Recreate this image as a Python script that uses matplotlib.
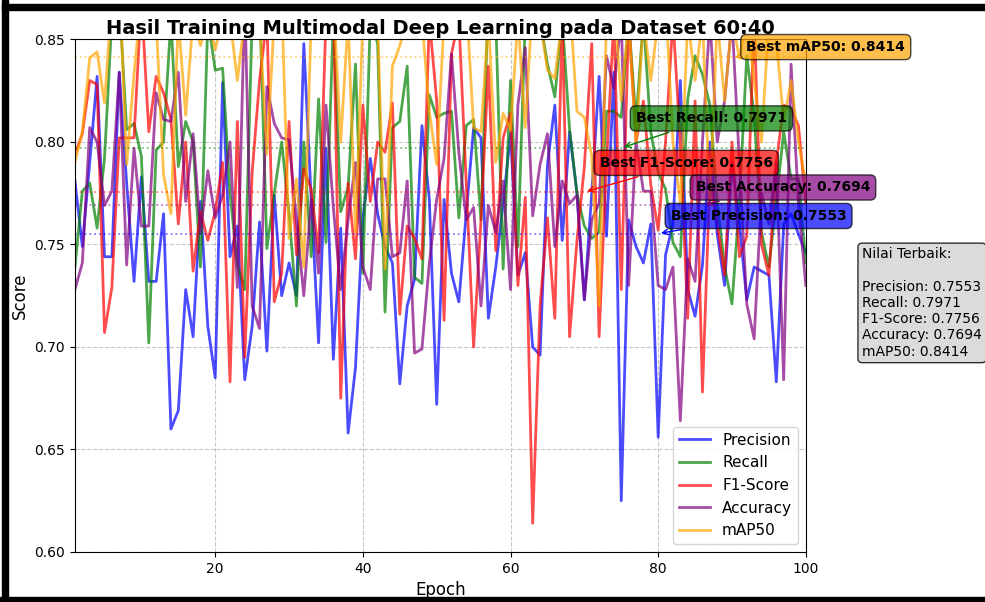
import matplotlib
matplotlib.use('Agg')
import matplotlib.pyplot as plt
import matplotlib.patches as patches
import numpy as np

# per-epoch validation metrics (epochs 1..100)
epochs = list(range(1, 101))

precision = [
    0.781, 0.749, 0.790, 0.832, 0.744, 0.744, 0.834, 0.780, 0.732, 0.783,
    0.732, 0.732, 0.765, 0.660, 0.669, 0.728, 0.705, 0.771, 0.710, 0.685,
    0.829, 0.744, 0.759, 0.684, 0.710, 0.761, 0.698, 0.774, 0.725, 0.741,
    0.725, 0.848, 0.772, 0.702, 0.797, 0.694, 0.758, 0.658, 0.690, 0.763,
    0.792, 0.765, 0.749, 0.741, 0.682, 0.720, 0.733, 0.808, 0.772, 0.672,
    0.772, 0.736, 0.722, 0.765, 0.807, 0.802, 0.714, 0.739, 0.770, 0.804,
    0.735, 0.746, 0.700, 0.696, 0.789, 0.818, 0.752, 0.805, 0.775, 0.723,
    0.775, 0.832, 0.754, 0.834, 0.625, 0.762, 0.749, 0.741, 0.760, 0.656,
    0.745, 0.760, 0.830, 0.728, 0.715, 0.740, 0.800, 0.755, 0.730, 0.790,
    0.760, 0.723, 0.739, 0.737, 0.735, 0.683, 0.760, 0.765, 0.755, 0.746,
]

recall = [
    0.739, 0.776, 0.780, 0.758, 0.792, 0.860, 0.870, 0.806, 0.809, 0.793,
    0.702, 0.796, 0.800, 0.860, 0.788, 0.810, 0.800, 0.739, 0.860, 0.835,
    0.836, 0.775, 0.740, 0.728, 0.860, 0.870, 0.748, 0.775, 0.800, 0.765,
    0.720, 0.800, 0.744, 0.821, 0.751, 0.860, 0.766, 0.778, 0.838, 0.736,
    0.860, 0.848, 0.717, 0.807, 0.810, 0.837, 0.734, 0.731, 0.823, 0.812,
    0.814, 0.815, 0.763, 0.808, 0.811, 0.762, 0.870, 0.860, 0.738, 0.830,
    0.749, 0.860, 0.870, 0.860, 0.838, 0.822, 0.860, 0.806, 0.775, 0.759,
    0.753, 0.756, 0.815, 0.815, 0.812, 0.860, 0.810, 0.860, 0.805, 0.785,
    0.777, 0.751, 0.744, 0.821, 0.842, 0.833, 0.818, 0.771, 0.739, 0.721,
    0.771, 0.842, 0.813, 0.756, 0.739, 0.771, 0.805, 0.782, 0.782, 0.741,
]

f1_score = [
    0.794, 0.804, 0.830, 0.828, 0.707, 0.729, 0.802, 0.802, 0.802, 0.870,
    0.805, 0.832, 0.824, 0.811, 0.760, 0.800, 0.737, 0.766, 0.752, 0.766,
    0.790, 0.683, 0.810, 0.695, 0.785, 0.830, 0.860, 0.722, 0.736, 0.810,
    0.745, 0.787, 0.777, 0.746, 0.860, 0.870, 0.675, 0.780, 0.743, 0.818,
    0.771, 0.800, 0.795, 0.819, 0.716, 0.759, 0.753, 0.743, 0.860, 0.820,
    0.713, 0.843, 0.860, 0.780, 0.700, 0.762, 0.837, 0.747, 0.802, 0.814,
    0.730, 0.773, 0.614, 0.720, 0.763, 0.714, 0.860, 0.705, 0.752, 0.788,
    0.848, 0.705, 0.790, 0.860, 0.728, 0.860, 0.800, 0.820, 0.779, 0.757,
    0.800, 0.860, 0.800, 0.714, 0.820, 0.678, 0.782, 0.760, 0.735, 0.800,
    0.744, 0.754, 0.860, 0.750, 0.735, 0.790, 0.818, 0.816, 0.808, 0.770,
]

accuracy = [
    0.728, 0.741, 0.807, 0.800, 0.769, 0.776, 0.834, 0.740, 0.797, 0.759,
    0.759, 0.824, 0.811, 0.810, 0.834, 0.771, 0.804, 0.756, 0.786, 0.763,
    0.774, 0.800, 0.729, 0.870, 0.720, 0.709, 0.827, 0.809, 0.802, 0.801,
    0.762, 0.725, 0.772, 0.736, 0.818, 0.768, 0.728, 0.762, 0.790, 0.739,
    0.728, 0.782, 0.782, 0.744, 0.746, 0.781, 0.697, 0.699, 0.741, 0.772,
    0.792, 0.843, 0.795, 0.762, 0.768, 0.720, 0.769, 0.756, 0.781, 0.728,
    0.818, 0.846, 0.764, 0.789, 0.804, 0.749, 0.781, 0.770, 0.774, 0.723,
    0.762, 0.770, 0.842, 0.826, 0.860, 0.730, 0.800, 0.776, 0.776, 0.730,
    0.728, 0.739, 0.664, 0.743, 0.732, 0.800, 0.860, 0.800, 0.820, 0.860,
    0.790, 0.721, 0.704, 0.775, 0.760, 0.790, 0.684, 0.838, 0.770, 0.730,
]

map50 = [
    0.790, 0.805, 0.841, 0.844, 0.819, 0.870, 0.880, 0.789, 0.833, 0.870,
    0.860, 0.860, 0.784, 0.765, 0.860, 0.813, 0.860, 0.847, 0.860, 0.845,
    0.860, 0.860, 0.830, 0.860, 0.870, 0.860, 0.794, 0.860, 0.870, 0.753,
    0.782, 0.739, 0.860, 0.870, 0.860, 0.870, 0.800, 0.860, 0.756, 0.860,
    0.870, 0.860, 0.738, 0.837, 0.847, 0.860, 0.870, 0.860, 0.815, 0.789,
    0.860, 0.870, 0.860, 0.870, 0.807, 0.805, 0.860, 0.790, 0.814, 0.806,
    0.860, 0.807, 0.870, 0.860, 0.835, 0.831, 0.860, 0.870, 0.815, 0.812,
    0.793, 0.720, 0.860, 0.870, 0.820, 0.860, 0.800, 0.860, 0.830, 0.860,
    0.870, 0.800, 0.770, 0.860, 0.830, 0.860, 0.770, 0.860, 0.820, 0.860,
    0.841, 0.860, 0.830, 0.800, 0.860, 0.850, 0.810, 0.830, 0.800, 0.780,
]

# best values reported for each metric and the epoch they belong to
metric_names = ['Precision', 'Recall', 'F1-Score', 'Accuracy', 'mAP50']
best_values = [0.7553, 0.7971, 0.7756, 0.7694, 0.8414]
best_epochs = [80, 75, 70, 86, 90]

colors = ['blue', 'green', 'red', 'purple', 'orange']
# where each "Best ..." label sits (epoch, score)
label_pos = [(93.6, 0.7639), (87.2, 0.8115), (83.8, 0.7898), (96.9, 0.7778), (102.7, 0.8463)]


def mkplot():
    fig = plt.figure(figsize=(9.85, 6.02), dpi=100)
    ax = fig.add_axes([0.0761, 0.0831, 0.742, 0.8513])

    series = [precision, recall, f1_score, accuracy, map50]
    for name, vals, c in zip(metric_names, series, colors):
        ax.plot(epochs, vals, color=c, alpha=0.7, linewidth=2, label=name)

    for name, best, ep, c, pos in zip(metric_names, best_values, best_epochs, colors, label_pos):
        ax.axhline(best, color=c, linestyle=':', alpha=0.5, linewidth=1.3)
        ax.annotate(f'Best {name}: {best:.4f}', xy=(ep, best), xytext=pos,
                    ha='center', va='center', fontsize=10, fontweight='bold',
                    bbox=dict(boxstyle='round,pad=0.4', facecolor=c, alpha=0.7),
                    arrowprops=dict(arrowstyle='->', color=c, lw=1),
                    annotation_clip=False)

    ax.set_xlim(1, 100)
    ax.set_ylim(0.60, 0.85)
    ax.grid(True, linestyle='--', alpha=0.7)
    ax.set_xlabel('Epoch', fontsize=12)
    ax.set_ylabel('Score', fontsize=12)
    ax.set_title('Hasil Training Multimodal Deep Learning pada Dataset 60:40',
                 fontsize=14, fontweight='bold', pad=4)
    ax.legend(loc='lower right', fontsize=11)

    summary = 'Nilai Terbaik:\n\n' + '\n'.join(
        f'{n}: {v:.4f}' for n, v in zip(metric_names, best_values))
    ax.text(1.077, 0.486, summary, transform=ax.transAxes, fontsize=10,
            va='center', ha='left',
            bbox=dict(boxstyle='round', facecolor='lightgray', alpha=0.8))

    # black frame around the figure
    W, H = 985, 602
    for x0, y0, w, h in [(2, 0, 6, H), (2, H - 10, W, 6), (0, 0, W, 5)]:
        fig.patches.append(patches.Rectangle((x0 / W, y0 / H), w / W, h / H,
                                             transform=fig.transFigure,
                                             color='black', zorder=10))

    fig.savefig('out.png', dpi=100)


if __name__ == '__main__':
    mkplot()
